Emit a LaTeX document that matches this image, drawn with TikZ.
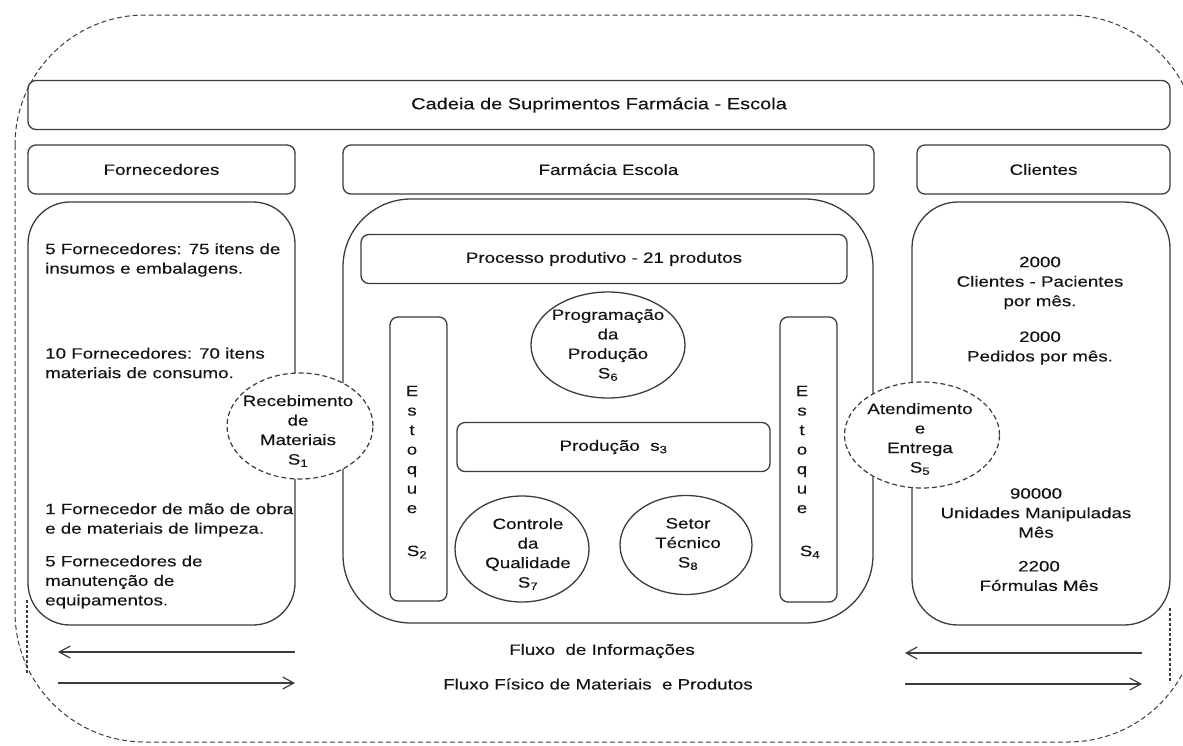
\documentclass[tikz,border=0pt]{standalone}
\usepackage{fontspec}
\setmainfont[FakeStretch=1.25, FakeBold=0.25]{Liberation Sans}
\usepackage{xcolor}
\usetikzlibrary{arrows.meta, shapes.geometric}

\definecolor{linegray}{HTML}{3C3C3C}
\definecolor{inkgray}{HTML}{141414}
\newcommand{\bodyfont}{\fontsize{15}{19.5}\selectfont}
\newcommand{\titlefont}{\fontsize{16}{19.5}\selectfont}

\begin{document}
\begin{tikzpicture}[
  x=1pt,
  y=-1pt,
  box/.style={
    rectangle,
    draw=linegray,
    line width=1.3pt,
    rounded corners=8pt,
    align=center,
    inner sep=0pt,
    text=inkgray,
    font=\bodyfont
  },
  header/.style={box, minimum height=49pt},
  panel/.style={box, rounded corners=42pt, minimum height=423pt},
  stockbox/.style={box, minimum width=57pt, minimum height=284pt},
  sector/.style={
    ellipse,
    draw=linegray,
    line width=1.3pt,
    inner sep=0pt
  },
  gate/.style={sector, fill=white, line width=1.2pt, dash pattern=on 5pt off 3pt},
  txt/.style={align=center, inner sep=0pt, text=inkgray, font=\bodyfont},
  note/.style={txt, align=left, anchor=west},
  arrow/.style={-{Straight Barb[length=11pt, width=12pt]}, line width=1.2pt, draw=linegray},
  outline/.style={draw=linegray, line width=1pt, dash pattern=on 5pt off 3pt}
]

\clip (0,0) rectangle (1183,745);

% outer dashed frame
\draw[outline, rounded corners=130pt] (15,15) rectangle (1198,742);
\draw[outline, line width=1.4pt, dash pattern=on 3pt off 2pt] (27,600) -- (27,673);
\draw[outline, line width=1.4pt, dash pattern=on 3pt off 2pt] (1170,608) -- (1170,683);

% headers
\node[header, minimum width=1142pt, font=\titlefont] (chain) at (599,105)
{Cadeia de Suprimentos Farmácia - Escola};
\node[header, minimum width=267pt] (supH) at (161.5,169.5) {Fornecedores};
\node[header, minimum width=531pt] (pharmH) at (608.5,169.5) {Farmácia Escola};
\node[header, minimum width=253pt] (cliH) at (1043.5,169.5) {Clientes};

% panels
\node[panel, minimum width=267pt] (supP) at (161.5,413.5) {};
\node[panel, minimum width=530pt, minimum height=424pt, rounded corners=68pt] (pharmP) at (608,411) {};
\node[panel, minimum width=258pt, rounded corners=46pt] (cliP) at (1041,413.5) {};

% suppliers
\node[note] (sup1) at (45,260) {5 Fornecedores: 75 itens de\\insumos e embalagens.};
\node[note] (sup2) at (45,363) {10 Fornecedores: 70 itens\\materiais de consumo.};
\node[note] (sup3) at (45,520) {1 Fornecedor de mão de obra\\e de materiais de limpeza.};
\node[note] (sup4) at (45,582) {5 Fornecedores de\\manutenção de\\equipamentos.};

% pharmacy
\node[box, minimum width=486pt, minimum height=49pt] (proc) at (604,259)
{Processo produtivo - 21 produtos};
\node[stockbox] (stockA) at (418.5,459) {};
\node[txt] (stockAt) at (412,449.5) {E\\s\\t\\o\\q\\u\\e};
\node[txt] (stockAs) at (417,552) {S\textsubscript{2}};
\node[stockbox, minimum height=285pt] (stockB) at (808.5,459.5) {};
\node[txt] (stockBt) at (802,449.5) {E\\s\\t\\o\\q\\u\\e};
\node[txt] (stockBs) at (810,552) {S\textsubscript{4}};
\node[box, minimum width=313pt, minimum height=49pt] (prod) at (613.5,447)
{Produção~ s\textsubscript{3}};
\node[sector, minimum width=154pt, minimum height=106pt] (plan) at (608,345) {};
\node[txt] (plant) at (plan) {Programação\\da\\Produção\\S\textsubscript{6}};
\node[sector, minimum width=134pt, minimum height=106pt] (qual) at (522,549) {};
\node[txt] (qualt) at (528,554) {Controle\\da\\Qualidade\\S\textsubscript{7}};
\node[sector, minimum width=132pt, minimum height=99pt] (tech) at (686,545) {};
\node[txt] (techt) at (688,544) {Setor\\Técnico\\S\textsubscript{8}};

% interfaces
\node[gate, minimum width=146pt, minimum height=106pt] (recv) at (300,426) {};
\node[txt] (recvt) at (298,431) {Recebimento\\de\\Materiais\\S\textsubscript{1}};
\node[gate, minimum width=155pt, minimum height=106pt] (deliv) at (922,435) {};
\node[txt] (delivt) at (920,439) {Atendimento\\e\\Entrega\\S\textsubscript{5}};

% clients
\node[txt] (cli1) at (1040,283) {2000\\Clientes - Pacientes\\por mês.};
\node[txt] (cli2) at (1040,348) {2000\\Pedidos por mês.};
\node[txt] (cli3) at (1036,513) {90000\\Unidades Manipuladas\\Mês};
\node[txt] (cli4) at (1039,576) {2200\\Fórmulas Mês};

% flows
\coordinate (infoLa) at (295,652);
\coordinate (infoLb) at (58,652);
\coordinate (matLa) at (58,683);
\coordinate (matLb) at (295,683);
\coordinate (infoRa) at (1142,653);
\coordinate (infoRb) at (905,653);
\coordinate (matRa) at (905,684);
\coordinate (matRb) at (1142,684);

\node[txt] (infoT) at (602,651) {Fluxo~ de Informações};
\node[txt] (matT) at (598,684) {Fluxo Físico de Materiais~ e Produtos};

\draw[arrow] (infoLa) -- (infoLb);
\draw[arrow] (matLa) -- (matLb);
\draw[arrow] (infoRa) -- (infoRb);
\draw[arrow] (matRa) -- (matRb);

\end{tikzpicture}
\end{document}
